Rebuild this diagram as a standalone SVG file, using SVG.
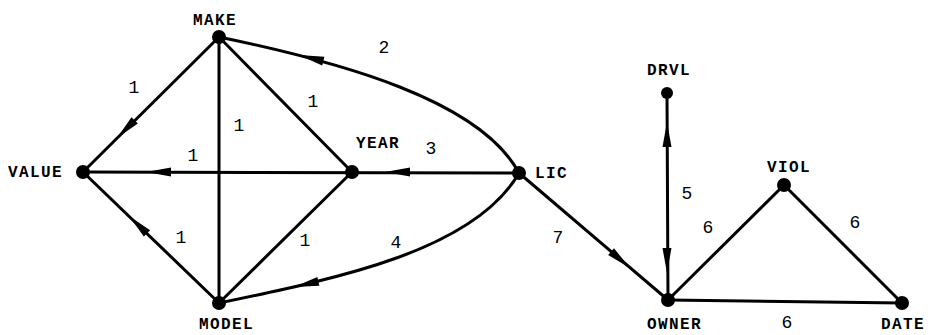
<svg xmlns="http://www.w3.org/2000/svg" width="928" height="335" viewBox="0 0 928 335">
<style>
.e{fill:none;stroke:#000;stroke-width:3;stroke-linecap:round}
.d{fill:#000}
.n{font-family:"Liberation Mono","DejaVu Sans Mono",monospace;font-weight:bold;font-size:16px;letter-spacing:1.4px;fill:#000}
.w{font-family:"Liberation Mono","DejaVu Sans Mono",monospace;font-size:18px;fill:#000;text-anchor:middle}
</style>
<defs>
<path id="ah" d="M0,0 L-25,-4.5 L-25,4.5 Z" fill="#000"/>
</defs>
<rect width="928" height="335" fill="#fff"/>
<g id="connectors">
<line class="e" x1="219" y1="37" x2="83" y2="172"/>
<line class="e" x1="219" y1="37" x2="219" y2="303"/>
<line class="e" x1="219" y1="37" x2="352" y2="172"/>
<path class="e" d="M219,37 C340,62 480,100 519,173"/>
<line class="e" x1="83" y1="172" x2="519" y2="173"/>
<line class="e" x1="219" y1="303" x2="83" y2="172"/>
<line class="e" x1="219" y1="303" x2="352" y2="172"/>
<path class="e" d="M219,303 C340,278 475,250 519,173"/>
<line class="e" x1="519" y1="173" x2="668" y2="300"/>
<line class="e" x1="667" y1="93" x2="668" y2="300"/>
<line class="e" x1="668" y1="300" x2="784" y2="185"/>
<line class="e" x1="784" y1="185" x2="902" y2="303"/>
<line class="e" x1="668" y1="300" x2="902" y2="303"/>
<use href="#ah" transform="translate(117,138) rotate(135)"/>
<use href="#ah" transform="translate(299,55) rotate(194)"/>
<use href="#ah" transform="translate(146,172) rotate(180)"/>
<use href="#ah" transform="translate(385,172) rotate(180)"/>
<use href="#ah" transform="translate(129,216) rotate(224)"/>
<use href="#ah" transform="translate(294,287) rotate(167)"/>
<use href="#ah" transform="translate(630,268) rotate(40.7)"/>
<use href="#ah" transform="translate(667,122) rotate(-90)"/>
<use href="#ah" transform="translate(667,273) rotate(90)"/>
<text class="w" x="384" y="53">2</text>
<text class="w" x="134" y="93">1</text>
<text class="w" x="313" y="107">1</text>
<text class="w" x="239" y="131">1</text>
<text class="w" x="193" y="161">1</text>
<text class="w" x="431" y="154">3</text>
<text class="w" x="181" y="243">1</text>
<text class="w" x="305" y="246">1</text>
<text class="w" x="396" y="248">4</text>
<text class="w" x="558" y="243">7</text>
<text class="w" x="687" y="199">5</text>
<text class="w" x="708" y="233">6</text>
<text class="w" x="855" y="228">6</text>
<text class="w" x="787" y="328">6</text>
</g>
<g id="MAKE"><circle class="d" cx="219" cy="37" r="7"/><text class="n" x="193" y="25">MAKE</text></g>
<g id="VALUE"><circle class="d" cx="83" cy="172" r="7"/><text class="n" x="8" y="177">VALUE</text></g>
<g id="YEAR"><circle class="d" cx="352" cy="172" r="7"/><text class="n" x="356" y="148">YEAR</text></g>
<g id="LIC"><circle class="d" cx="519" cy="173" r="7"/><text class="n" x="535" y="178">LIC</text></g>
<g id="MODEL"><circle class="d" cx="219" cy="303" r="7"/><text class="n" x="199" y="329">MODEL</text></g>
<g id="DRVL"><circle class="d" cx="667" cy="93" r="6"/><text class="n" x="647" y="75">DRVL</text></g>
<g id="VIOL"><circle class="d" cx="784" cy="185" r="7"/><text class="n" x="767" y="172">VIOL</text></g>
<g id="OWNER"><circle class="d" cx="668" cy="300" r="7"/><text class="n" x="647" y="329">OWNER</text></g>
<g id="DATE"><circle class="d" cx="902" cy="303" r="7"/><text class="n" x="881" y="329">DATE</text></g>
</svg>
